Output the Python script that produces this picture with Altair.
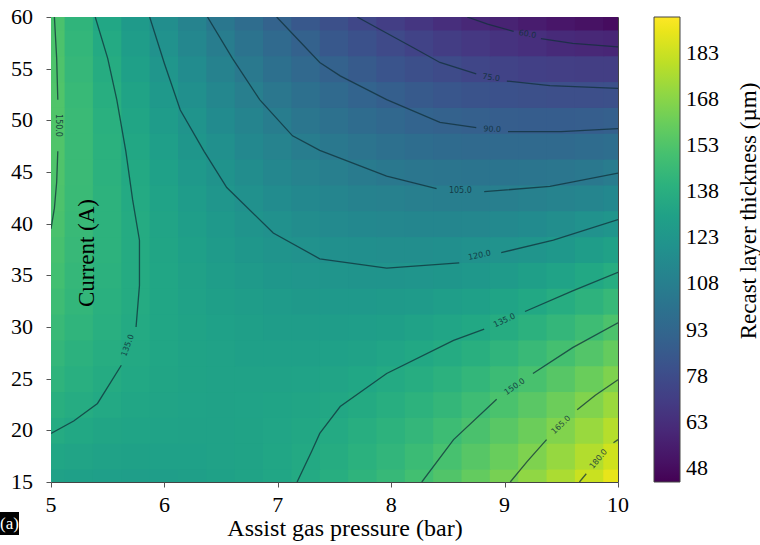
import altair as alt
import pandas as pd

# ---- grid of the response surface ----
pressure = [5.0, 5.25, 5.5, 5.75, 6.0, 6.25, 6.5, 6.75, 7.0, 7.25, 7.5,
            7.75, 8.0, 8.25, 8.5, 8.75, 9.0, 9.25, 9.5, 9.75, 10.0]
current = [15, 17.5, 20, 22.5, 25, 27.5, 30, 32.5, 35, 37.5, 40,
           42.5, 45, 47.5, 50, 52.5, 55, 57.5, 60]
thickness = [
    [130.0,128.9,128.2,128.0,128.1,128.7,129.8,131.2,133.1,135.5,138.2,141.4,145.0,149.1,153.6,158.5,163.8,169.6,175.8,182.5,189.5],
    [133.2,131.7,130.5,129.8,129.6,129.7,130.3,131.3,132.8,134.7,137.0,139.8,142.9,146.5,150.6,155.1,160.0,165.3,171.1,177.3,183.9],
    [136.2,134.2,132.6,131.5,130.8,130.5,130.6,131.2,132.2,133.7,135.5,137.8,140.6,143.7,147.3,151.4,155.8,160.7,166.1,171.8,178.0],
    [138.9,136.5,134.5,132.9,131.7,131.0,130.7,130.8,131.4,132.4,133.8,135.7,138.0,140.7,143.9,147.5,151.5,155.9,160.8,166.1,171.9],
    [141.4,138.5,136.1,134.0,132.4,131.3,130.5,130.2,130.3,130.9,131.9,133.3,135.2,137.4,140.1,143.3,146.9,150.9,155.3,160.2,165.5],
    [143.7,140.3,137.4,135.0,132.9,131.3,130.1,129.4,129.0,129.2,129.7,130.7,132.1,133.9,136.2,138.9,142.0,145.6,149.6,154.0,158.9],
    [145.7,141.9,138.5,135.6,133.1,131.1,129.5,128.3,127.5,127.2,127.3,127.8,128.8,130.2,132.0,134.3,136.9,140.1,143.6,147.6,152.0],
    [147.5,143.2,139.4,136.1,133.2,130.7,128.6,127.0,125.7,125.0,124.6,124.7,125.2,126.2,127.6,129.4,131.6,134.3,137.4,141.0,144.9],
    [149.0,144.3,140.1,136.3,132.9,130.0,127.5,125.4,123.7,122.5,121.7,121.4,121.5,122.0,122.9,124.3,126.1,128.3,131.0,134.1,137.6],
    [150.3,145.2,140.5,136.3,132.4,129.1,126.1,123.6,121.5,119.8,118.6,117.8,117.4,117.5,118.0,118.9,120.3,122.1,124.3,127.0,130.0],
    [151.3,145.8,140.7,136.0,131.7,127.9,124.5,121.5,119.0,116.9,115.2,114.0,113.2,112.8,112.9,113.3,114.3,115.6,117.4,119.6,122.2],
    [152.2,146.2,140.6,135.5,130.8,126.5,122.7,119.3,116.3,113.8,111.6,110.0,108.7,107.9,107.5,107.5,108.0,108.9,110.2,112.0,114.2],
    [152.8,146.3,140.3,134.8,129.6,124.9,120.6,116.8,113.3,110.3,107.8,105.7,104.0,102.7,101.9,101.5,101.5,102.0,102.8,104.2,105.9],
    [153.1,146.2,139.8,133.8,128.2,123.0,118.3,114.0,110.1,106.7,103.7,101.1,99.0,97.3,96.0,95.2,94.8,94.8,95.2,96.1,97.4],
    [153.2,145.9,139.0,132.5,126.5,120.9,115.7,111.0,106.7,102.8,99.4,96.4,93.8,91.6,89.9,88.6,87.8,87.4,87.4,87.8,88.7],
    [153.1,145.3,138.0,131.1,124.6,118.6,113.0,107.8,103.0,98.7,94.8,91.4,88.4,85.8,83.6,81.9,80.6,79.7,79.3,79.3,79.7],
    [152.7,144.5,136.8,129.4,122.5,116.0,109.9,104.3,99.1,94.4,90.0,86.1,82.7,79.6,77.0,74.8,73.1,71.8,70.9,70.5,70.4],
    [152.1,143.5,135.3,127.5,120.1,113.2,106.7,100.6,95.0,89.8,85.0,80.7,76.7,73.3,70.2,67.6,65.4,63.7,61.3,60.0,59.0],
    [151.3,142.2,133.5,125.3,117.5,110.1,103.2,96.7,90.6,85.0,79.7,75.0,70.6,66.7,63.2,60.1,57.5,54.5,52.0,50.0,47.5],
]

# ---- contour lines (segments split where matplotlib put inline labels) ----
contour_segments = {
    "60a": [(8.67, 60), (8.85, 59.3), (9.08, 58.6)],
    "60b": [(9.32, 57.9), (9.6, 57.45), (10, 57.1)],
    "75a": [(7.7, 60), (7.95, 58.5), (8.2, 57.0), (8.43, 55.6), (8.75, 54.5)],
    "75b": [(9.02, 53.8), (9.4, 53.35), (10, 53.1)],
    "90a": [(6.99, 60), (7.18, 57.8), (7.37, 55.6), (7.55, 54.3), (7.96, 52.0), (8.43, 49.8), (8.75, 49.3)],
    "90b": [(9.03, 48.9), (9.5, 48.9), (10, 49.2)],
    "105a": [(6.38, 60), (6.6, 56), (6.84, 52), (7.13, 48.5), (7.37, 47.1), (7.96, 44.6), (8.4, 43.4)],
    "105b": [(8.82, 43.1), (9.4, 43.6), (10, 44.9)],
    "120a": [(5.87, 60), (6.0, 55.5), (6.14, 51), (6.35, 47), (6.55, 43.5), (6.96, 39.1), (7.37, 36.6), (7.96, 35.7), (8.6, 36.2)],
    "120b": [(8.97, 37.2), (9.43, 38.4), (10, 40.4)],
    "135La": [(5.39, 60), (5.5, 56), (5.58, 52), (5.66, 47), (5.72, 42.3), (5.78, 38.4), (5.78, 34), (5.75, 30.0)],
    "135Lb": [(5.62, 26.3), (5.41, 22.6), (5.2, 20.9), (5.0, 19.7)],
    "135Ra": [(7.17, 15), (7.3, 18), (7.37, 19.7), (7.55, 22.3), (7.96, 25.5), (8.55, 28.7), (8.82, 29.8)],
    "135Rb": [(9.18, 31.5), (9.6, 33.5), (10, 35.3)],
    "150La": [(5.03, 60), (5.05, 56), (5.06, 52)],
    "150Lb": [(5.06, 47), (5.05, 44), (5.03, 41.5), (5.0, 39.5)],
    "150Ra": [(8.27, 15), (8.55, 19.1), (8.93, 23.0)],
    "150Rb": [(9.25, 25.5), (9.6, 28.0), (10, 30.4)],
    "165a": [(9.05, 15), (9.2, 17), (9.37, 19.1)],
    "165b": [(9.64, 22.0), (9.8, 23.4), (10, 24.9)],
    "180a": [(9.66, 15), (9.72, 15.8)],
    "180b": [(9.96, 18.8), (10, 19.1)],
}

label_text = ["60.0", "75.0", "90.0", "105.0", "120.0", "135.0", "150.0", "165.0", "180.0", "135.0", "150.0"]
label_p = [9.2, 8.88, 8.89, 8.61, 8.78, 9.0, 9.09, 9.5, 9.83, 5.68, 5.065]
label_i = [58.3, 54.1, 49.1, 43.2, 36.9, 30.6, 24.2, 20.5, 17.2, 28.2, 49.5]
label_angle = [10, 8, 3, 0, 348, 335, 325, 317, 310, 290, 90]

x_ticks = [5, 6, 7, 8, 9, 10]
y_ticks = [15, 20, 25, 30, 35, 40, 45, 50, 55, 60]
colorbar_ticks = [48, 63, 78, 93, 108, 123, 138, 153, 168, 183]

# ---- tables ----
rows = []
for j, cur in enumerate(current):
    for i, p in enumerate(pressure):
        rows.append({"p0": p - 0.13, "p1": p + 0.13,
                     "i0": cur - 1.3, "i1": cur + 1.3,
                     "z": thickness[j][i]})
grid = pd.DataFrame(rows)

crow = []
for seg, pts in contour_segments.items():
    for k, (p, c) in enumerate(pts):
        crow.append({"seg": seg, "P": p, "I": c, "ord": k})
cont = pd.DataFrame(crow)

labels = pd.DataFrame({"t": label_text, "P": label_p, "I": label_i, "ang": label_angle})
xt = pd.DataFrame({"P": x_ticks, "t": [str(v) for v in x_ticks]})
yt = pd.DataFrame({"I": y_ticks, "t": [str(v) for v in y_ticks]})

SERIF = "Liberation Serif"
xscale = alt.Scale(domain=[5, 10], nice=False, zero=False)
yscale = alt.Scale(domain=[15, 60], nice=False, zero=False)
cscale = alt.Scale(scheme="viridis", domain=[43.4, 194.7])

xaxis = alt.Axis(values=x_ticks, labels=False, title=None, grid=False,
                 tickSize=5, tickColor="#555", domain=False)
yaxis = alt.Axis(values=y_ticks, labels=False, title=None, grid=False,
                 tickSize=5, tickColor="#555", domain=False)

heat = alt.Chart(grid).mark_rect(clip=True).encode(
    x=alt.X("p0:Q", scale=xscale, axis=xaxis),
    x2="p1:Q",
    y=alt.Y("i0:Q", scale=yscale, axis=yaxis),
    y2="i1:Q",
    color=alt.Color("z:Q", scale=cscale,
                    legend=alt.Legend(orient="none", legendX=603, legendY=0,
                                      direction="vertical", title=None,
                                      gradientLength=465, gradientThickness=26,
                                      values=colorbar_ticks, labelOverlap=False,
                                      labelFont=SERIF, labelFontSize=22, labelColor="black",
                                      labelOffset=6, gradientStrokeColor="#444",
                                      gradientStrokeWidth=1)),
)

lines = alt.Chart(cont).mark_line(clip=True, color="#10303a", strokeWidth=1.3, opacity=0.75).encode(
    x=alt.X("P:Q", scale=xscale, axis=xaxis),
    y=alt.Y("I:Q", scale=yscale, axis=yaxis),
    detail="seg:N",
    order="ord:Q",
)

clabels = alt.Chart(labels).mark_text(font="DejaVu Sans", fontSize=8, color="#10303a",
                                      opacity=0.85, align="center", baseline="middle").encode(
    x=alt.X("P:Q", scale=xscale, axis=xaxis),
    y=alt.Y("I:Q", scale=yscale, axis=yaxis),
    text="t:N",
    angle=alt.Angle("ang:Q", scale=None),
)

xlabels = alt.Chart(xt).mark_text(font=SERIF, fontSize=22, color="black",
                                  align="center", baseline="top").encode(
    x=alt.X("P:Q", scale=xscale, axis=xaxis),
    y=alt.value(478),
    text="t:N",
)
ylabels = alt.Chart(yt).mark_text(font=SERIF, fontSize=22, color="black",
                                  align="right", baseline="middle").encode(
    x=alt.value(-18),
    y=alt.Y("I:Q", scale=yscale, axis=yaxis),
    text="t:N",
)

ytitle = alt.Chart(pd.DataFrame({"t": ["Current (A)"]})).mark_text(
    font=SERIF, fontSize=23, color="black", angle=270, align="center", baseline="middle"
).encode(text="t:N", x=alt.value(36), y=alt.value(236))

xtitle = alt.Chart(pd.DataFrame({"t": ["Assist gas pressure (bar)"]})).mark_text(
    font=SERIF, fontSize=24, color="black", align="center", baseline="alphabetic"
).encode(text="t:N", x=alt.value(294), y=alt.value(519))

ctitle = alt.Chart(pd.DataFrame({"t": ["Recast layer thickness (\u00b5m)"]})).mark_text(
    font=SERIF, fontSize=23, color="black", angle=270, align="center", baseline="middle"
).encode(text="t:N", x=alt.value(698), y=alt.value(194))

tagbox = alt.Chart(pd.DataFrame({"t": ["(a)"]})).mark_rect(color="black").encode(
    x=alt.value(-51), x2=alt.value(-32), y=alt.value(495), y2=alt.value(518))
tagtext = alt.Chart(pd.DataFrame({"t": ["(a)"]})).mark_text(
    font=SERIF, fontSize=17, color="white", align="center", baseline="middle"
).encode(text="t:N", x=alt.value(-41.5), y=alt.value(507))

chart = alt.layer(heat, lines, clabels, xlabels, ylabels, ytitle, xtitle, ctitle,
                  tagbox, tagtext).properties(
    width=567, height=465,
    autosize=alt.AutoSizeParams(type="none"),
    padding={"left": 51, "top": 17, "right": 142, "bottom": 63},
    background="white",
).configure(font=SERIF).configure_view(stroke="#444", strokeWidth=1).configure_legend(
    labelFont=SERIF)

chart.save("out.html", embed_options={"renderer": "svg", "actions": False})
